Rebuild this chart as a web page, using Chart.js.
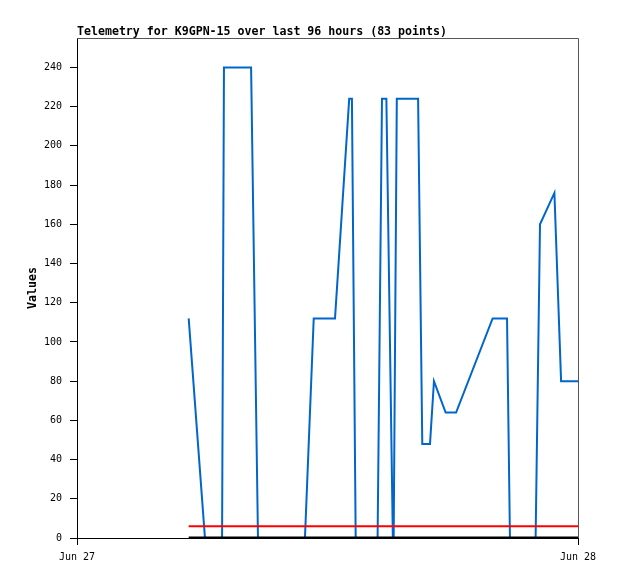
<!DOCTYPE html>
<html lang="en">
<head>
    <meta charset="UTF-8">
    <title>Telemetry K9GPN-15</title>
    <script src="https://cdn.jsdelivr.net/npm/chart.js"></script>
    <style>
        body { margin: 0; background: #fff; }
        canvas { display: block; }
    </style>
</head>
<body>
    <canvas id="chartTelemetry" width="618" height="579"></canvas>

<script>
    // hours since Jun 27 00:00
    var horas = [5.35, 6.13, 6.95, 7.04, 8.34, 8.67, 10.92, 11.34, 12.36, 13.04, 13.17, 13.35,
                 14.40, 14.61, 14.82, 15.13, 15.17, 15.32, 16.34, 16.54, 16.91, 17.10, 17.66,
                 18.16, 19.91, 20.60, 20.74, 21.97, 22.18, 22.87, 23.19, 24.0];
    var valores = [112, 0, 0, 240, 240, 0, 0, 112, 112, 224, 224, 0,
                   0, 224, 224, 0, 0, 224, 224, 48, 48, 80, 64,
                   64, 112, 112, 0, 0, 160, 176, 80, 80];

    // red limit line and zero line
    var horasLimite = [5.35, 24.0];
    var valoresLimite = [6, 6];
    var valoresZero = [0, 0];

    var tickHoras = [0, 24];
    var rotulosX = ['Jun 27', 'Jun 28'];

    var titulo = 'Telemetry for K9GPN-15 over last 96 hours (83 points)';
    var fonte = 'DejaVu Sans Mono';

    function pontos(xs, ys) {
        var lista = [];
        for (var i = 0; i < xs.length; i++) {
            lista.push({ x: xs[i], y: ys[i] });
        }
        return lista;
    }

    // title + grey frame on top/right
    var molduraPlugin = {
        id: 'moldura',
        beforeDatasetsDraw: function (chart) {
            var a = chart.chartArea;
            var ctx = chart.ctx;
            ctx.save();
            ctx.strokeStyle = '#555';
            ctx.lineWidth = 1;
            ctx.beginPath();
            ctx.moveTo(a.left, a.top + 0.5);
            ctx.lineTo(a.right + 0.5, a.top + 0.5);
            ctx.lineTo(a.right + 0.5, a.bottom);
            ctx.stroke();
            ctx.restore();
        },
        afterDraw: function (chart) {
            var ctx = chart.ctx;
            ctx.save();
            ctx.fillStyle = '#000';
            ctx.font = 'bold 11.6px "' + fonte + '"';
            ctx.textAlign = 'left';
            ctx.textBaseline = 'alphabetic';
            ctx.fillText(titulo, chart.chartArea.left, chart.chartArea.top - 3);
            ctx.restore();
        }
    };

    var ctx = document.getElementById('chartTelemetry').getContext('2d');
    var config = {
        type: 'line',
        data: {
            datasets: [
                {
                    label: 'zero',
                    data: pontos(horasLimite, valoresZero),
                    borderColor: '#000000',
                    borderWidth: 3,
                    pointRadius: 0,
                    fill: false
                },
                {
                    label: 'limit',
                    data: pontos(horasLimite, valoresLimite),
                    borderColor: '#ff0000',
                    borderWidth: 2,
                    pointRadius: 0,
                    fill: false
                },
                {
                    label: 'Values',
                    data: pontos(horas, valores),
                    borderColor: '#0066cc',
                    borderWidth: 2,
                    pointRadius: 0,
                    tension: 0,
                    fill: false
                }
            ]
        },
        options: {
            responsive: false,
            animation: false,
            layout: { padding: { top: 38, right: 40, left: 0, bottom: 0 } },
            plugins: {
                legend: { display: false },
                tooltip: { enabled: false }
            },
            scales: {
                x: {
                    type: 'linear',
                    min: 0,
                    max: 24,
                    afterBuildTicks: function (axis) {
                        axis.ticks = tickHoras.map(function (v) { return { value: v }; });
                    },
                    afterFit: function (axis) { axis.height = 41; },
                    ticks: {
                        autoSkip: false,
                        maxRotation: 0,
                        padding: 6,
                        color: '#000',
                        font: { family: fonte, size: 10 },
                        callback: function (v) {
                            var i = tickHoras.indexOf(v);
                            return i >= 0 ? rotulosX[i] : '';
                        }
                    },
                    grid: { drawOnChartArea: false, drawTicks: true, tickLength: 7, tickColor: '#000' },
                    border: { color: '#000', width: 1 }
                },
                y: {
                    min: 0,
                    max: 255,
                    afterFit: function (axis) { axis.width = 77; },
                    ticks: {
                        stepSize: 20,
                        includeBounds: false,
                        padding: 8,
                        color: '#000',
                        font: { family: fonte, size: 10 }
                    },
                    title: {
                        display: true,
                        text: 'Values',
                        color: '#000',
                        font: { family: fonte, size: 11.6, weight: 'bold' },
                        padding: { top: 26, bottom: 0 }
                    },
                    grid: { drawOnChartArea: false, drawTicks: true, tickLength: 7, tickColor: '#000' },
                    border: { color: '#000', width: 1 }
                }
            }
        },
        plugins: [molduraPlugin]
    };

    var grafico = new Chart(ctx, config);
</script>
</body>
</html>
